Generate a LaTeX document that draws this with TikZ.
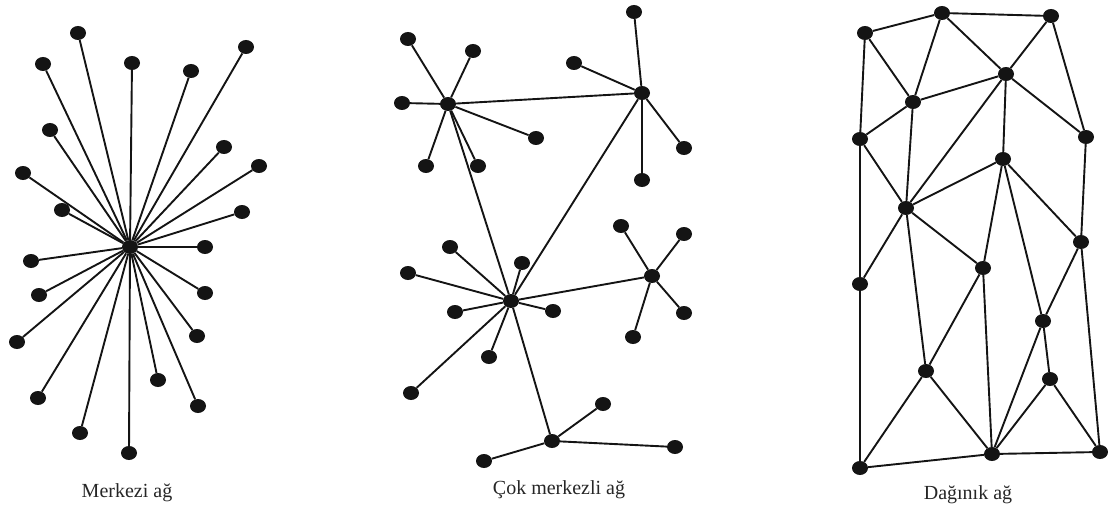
\documentclass[tikz,border=0pt]{standalone}
\usepackage{fontspec}
\setmainfont{Liberation Serif}
\usetikzlibrary{shapes.geometric}
\definecolor{agcizgi}{HTML}{141414}
\definecolor{agyazi}{HTML}{262626}
\tikzset{
  kenar/.style={draw=agcizgi,line width=1.9pt},
  nokta/.style={ellipse,fill=agcizgi,inner sep=0pt,minimum width=16pt,minimum height=14pt},
  baslik/.style={font=\fontsize{20}{23}\selectfont,text=agyazi,inner sep=0pt},
}

\begin{document}
\begin{tikzpicture}[x=1pt,y=-1pt]
  \useasboundingbox (0,0) rectangle (1108,508);
  % merkezi ag
  \node[nokta] (m0) at (130,247) {};
  \foreach [count=\i] \p in {(78,33),(43,64),(132,63),(191,71),(246,47),(50,130),(224,147),(259,166),(23,173),(62,210),(242,212),(205,247),(31,261),(39,295),(205,293),(17,342),(197,336),(158,380),(38,398),(198,406),(80,433),(129,453)}
    {\node[nokta] (m\i) at \p {}; \draw[kenar] (m0) -- (m\i);}
  % cok merkezli ag: merkezler
  \node[nokta] (ca) at (448,104) {};
  \node[nokta] (cb) at (642,93) {};
  \node[nokta] (cc) at (511,301) {};
  \node[nokta] (cd) at (652,276) {};
  \node[nokta] (ce) at (552,441) {};
  \foreach \a/\b in {ca/cb,ca/cc,cb/cc,cc/cd,cc/ce} \draw[kenar] (\a) -- (\b);
  % cok merkezli ag: uclar
  \foreach [count=\i] \h/\p in {ca/{(408,39)},ca/{(473,51)},ca/{(402,103)},ca/{(536,138)},ca/{(426,166)},ca/{(478,166)},
      cb/{(634,12)},cb/{(574,63)},cb/{(684,148)},cb/{(642,180)},
      cc/{(450,247)},cc/{(408,273)},cc/{(522,263)},cc/{(455,312)},cc/{(553,311)},cc/{(489,357)},cc/{(411,393)},
      cd/{(621,226)},cd/{(684,234)},cd/{(684,313)},cd/{(633,337)},
      ce/{(603,404)},ce/{(484,461)},ce/{(675,447)}}
    {\node[nokta] (c\i) at \p {}; \draw[kenar] (\h) -- (c\i);}
  % daginik ag
  \foreach [count=\i] \p in {(942,13),(1051,16),(865,33),(1006,74),(913,102),(860,139),(1086,137),(1003,159),(906,208),(1081,242),(983,268),(860,284),(1043,321),(926,371),(1050,379),(992,454),(1100,452),(860,468)}
    \node[nokta] (d\i) at \p {};
  \foreach \a/\b in {3/1,1/2,3/5,1/5,1/4,2/4,2/7,5/4,4/7,3/6,5/6,6/9,5/9,4/9,4/8,8/9,6/12,8/11,8/13,8/10,7/10,9/11,9/12,9/14,11/14,11/16,10/13,13/15,13/16,15/16,15/17,10/17,14/18,14/16,12/18,18/16,16/17}
    \draw[kenar] (d\a) -- (d\b);
  % basliklar
  \node[baslik] (ta) at (127,493) {Merkezi ağ};
  \node[baslik] (tb) at (559,490) {Çok merkezli ağ};
  \node[baslik] (tc) at (968,495) {Dağınık ağ};
\end{tikzpicture}
\end{document}
